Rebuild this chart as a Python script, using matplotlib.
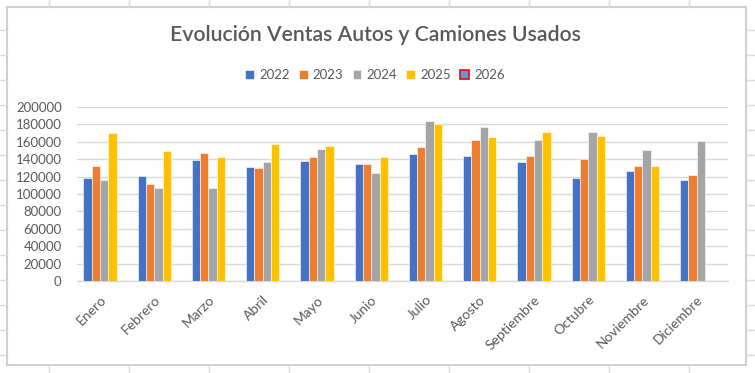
import numpy as np
import matplotlib.pyplot as plt
from matplotlib.patches import Rectangle
from matplotlib.lines import Line2D

plt.rcParams['font.family'] = ['Lato', 'DejaVu Sans']

meses = ['Enero', 'Febrero', 'Marzo', 'Abril', 'Mayo', 'Junio', 'Julio',
         'Agosto', 'Septiembre', 'Octubre', 'Noviembre', 'Diciembre']
anios = ['2022', '2023', '2024', '2025', '2026']
v2022 = [118000, 121000, 139500, 131000, 138500, 134000, 145500, 144000, 136500, 118000, 126500, 116500]
v2023 = [132000, 111000, 147000, 129500, 142500, 134000, 153500, 162500, 143500, 140500, 132500, 122000]
v2024 = [116500, 106500, 106500, 137000, 151500, 124000, 184000, 176500, 162500, 171000, 151000, 161000]
v2025 = [170000, 149500, 142000, 158000, 155500, 142500, 180000, 165000, 171000, 166500, 132500, np.nan]
v2026 = [np.nan] * 12
series = [v2022, v2023, v2024, v2025, v2026]
colores = ['#4472C4', '#ED7D31', '#A5A5A5', '#FFC000', '#5B9BD5']
yticks = list(range(0, 200001, 20000))

W, H = 755, 373
fig = plt.figure(figsize=(W / 100, H / 100), dpi=100)
fig.patch.set_facecolor('white')

# celdas de la hoja de calculo alrededor del grafico
grid_c = '#dadada'
for x in range(49, W, 80):
    fig.add_artist(Line2D([x / W, x / W], [1 - 7 / H, 1], color=grid_c, lw=1))
    fig.add_artist(Line2D([x / W, x / W], [0, 1 - 365 / H], color=grid_c, lw=1))
for y in range(30, H, 25):
    fig.add_artist(Line2D([0, 7 / W], [1 - y / H, 1 - y / H], color=grid_c, lw=1))
    fig.add_artist(Line2D([746 / W, 1], [1 - y / H, 1 - y / H], color=grid_c, lw=1))
fig.add_artist(Rectangle((7 / W, 1 - 365 / H), 739 / W, 358 / H, transform=fig.transFigure,
                         facecolor='white', edgecolor='#d0d0d0', lw=1.5, zorder=0))

ax = fig.add_axes([77 / W, 1 - 281 / H, 651 / W, 174 / H])
ax.set_facecolor('none')
x = np.arange(len(meses))
w = 1 / 6.5
for i, (anio, vals, c) in enumerate(zip(anios, series, colores)):
    ax.bar(x + (i - 2) * w, vals, width=w, color=c, edgecolor='white', linewidth=0.4,
           label=anio, zorder=3)

ax.set_xlim(-0.5, len(meses) - 0.5)
ax.set_ylim(0, 200000)
ax.set_yticks(yticks)
ax.set_yticklabels([str(t) for t in yticks])
ax.yaxis.grid(True, color='#d9d9d9', lw=1, zorder=0)
ax.set_xticks(x)
ax.set_xticklabels(meses, rotation=45, ha='right', va='center', rotation_mode='anchor')
ax.tick_params(axis='both', length=0, colors='#595959', labelsize=9.5)
ax.tick_params(axis='x', labelsize=10)
ax.tick_params(axis='y', pad=11)
ax.tick_params(axis='x', pad=12)
for s in ['top', 'right', 'left']:
    ax.spines[s].set_visible(False)
ax.spines['bottom'].set_color('#d9d9d9')
ax.spines['bottom'].set_linewidth(1)

fig.text(375 / W, 1 - 35 / H, 'Evolución Ventas Autos y Camiones Usados', ha='center', va='center',
         fontsize=15.3, fontweight='semibold', color='#595959')

leg = fig.legend(loc='center', bbox_to_anchor=(375 / W, 1 - 75 / H), ncol=5, frameon=False,
                 fontsize=9.5, handlelength=0.65, handleheight=0.65, handletextpad=0.4,
                 columnspacing=0.7, labelcolor='#595959')
leg.legend_handles[4].set_edgecolor('red')
leg.legend_handles[4].set_linewidth(1.2)

fig.savefig('out.png', dpi=100)
